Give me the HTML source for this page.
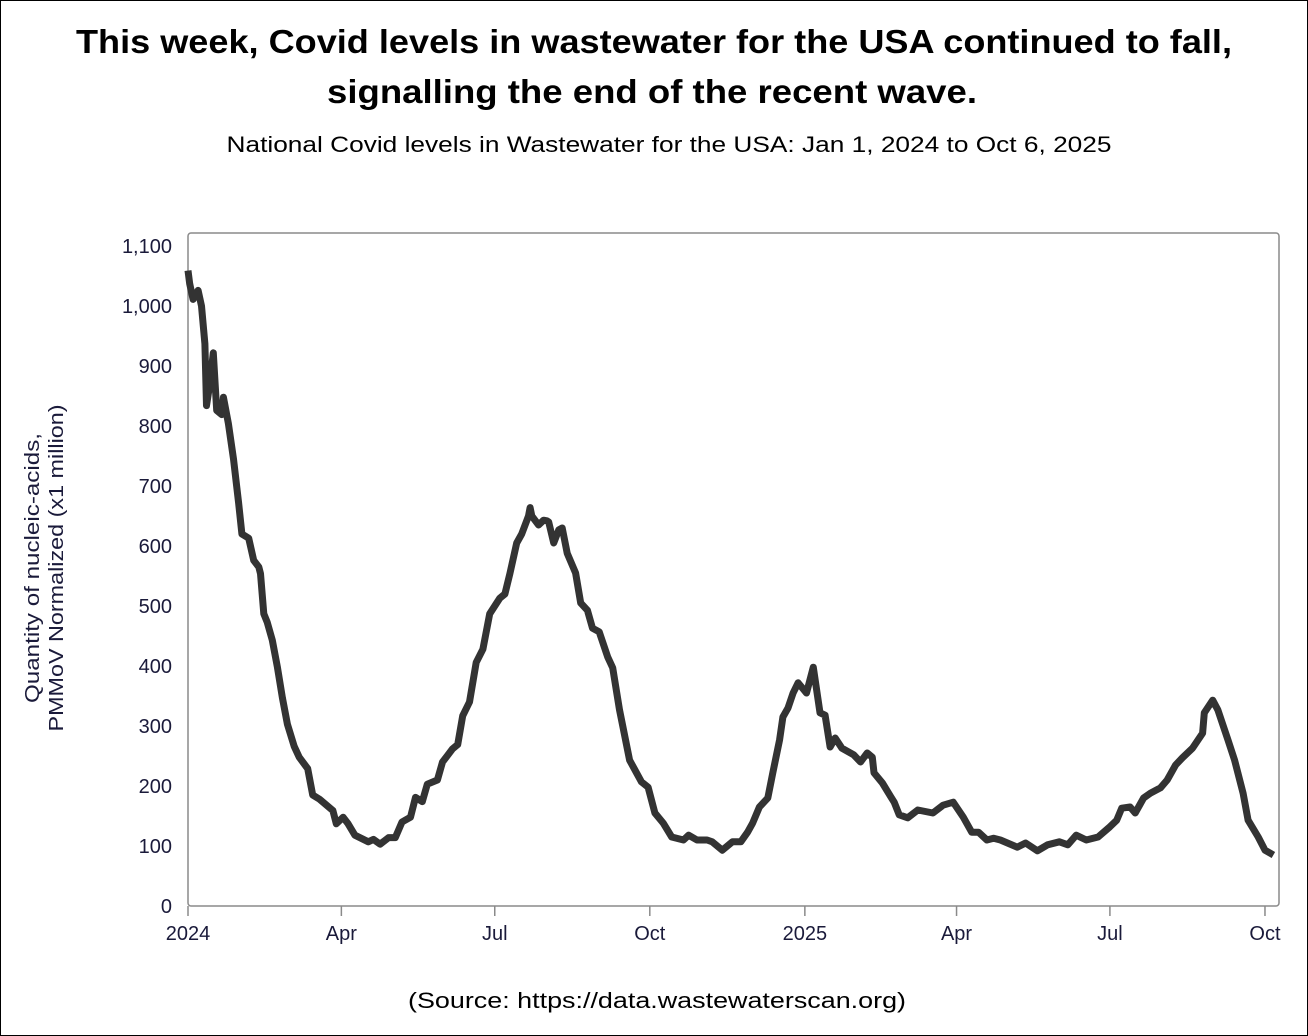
<!DOCTYPE html>
<html><head><meta charset="utf-8"><style>
html,body{margin:0;padding:0;background:#fff}
svg{display:block}
</style></head><body>
<svg id="chart" width="1308" height="1036" viewBox="0 0 1308 1036" xmlns="http://www.w3.org/2000/svg">
<rect x="0.5" y="0.5" width="1307" height="1035" fill="#fff" stroke="#000" stroke-width="1"/>
<text x="654" y="53" text-anchor="middle" font-family="Liberation Sans, sans-serif" font-weight="bold" font-size="33" textLength="1156" lengthAdjust="spacingAndGlyphs">This week, Covid levels in wastewater for the USA continued to fall,</text>
<text x="652" y="103" text-anchor="middle" font-family="Liberation Sans, sans-serif" font-weight="bold" font-size="33" textLength="650" lengthAdjust="spacingAndGlyphs">signalling the end of the recent wave.</text>
<text x="669" y="152" text-anchor="middle" font-family="Liberation Sans, sans-serif" font-size="22" textLength="885" lengthAdjust="spacingAndGlyphs">National Covid levels in Wastewater for the USA: Jan 1, 2024 to Oct 6, 2025</text>
<text x="657" y="1008" text-anchor="middle" font-family="Liberation Sans, sans-serif" font-size="22" textLength="498" lengthAdjust="spacingAndGlyphs">(Source: https://data.wastewaterscan.org)</text>
<g font-family="Liberation Sans, sans-serif" font-size="20" fill="#1a1a3a" text-anchor="middle">
<text x="0" y="0" transform="translate(39,568) rotate(-90)" textLength="270" lengthAdjust="spacingAndGlyphs">Quantity of nucleic-acids,</text>
<text x="0" y="0" transform="translate(63,568) rotate(-90)" textLength="327" lengthAdjust="spacingAndGlyphs">PMMoV Normalized (x1 million)</text>
</g>
<rect x="188" y="233" width="1091" height="673" rx="3" fill="none" stroke="#8a8a8a" stroke-width="1.5"/>
<g id="yticks"></g>
<g id="xticks"></g>
<path id="line" fill="none" stroke="#333" stroke-width="7" stroke-linejoin="round"/>
</svg>
<script>
const days = [0,1,3,6,8,10,11,13,15,17,20,21,24,27,30,32,36,39,42,43,45,47,50,53,56,59,63,66,71,74,78,86,88,92,95,99,107,110,114,119,123,127,132,135,139,142,148,151,154,157,160,163,167,171,175,179,185,188,191,195,198,202,203,204,208,211,213,214,217,220,222,225,230,233,237,240,244,249,252,256,262,269,273,277,282,287,294,297,302,308,311,317,323,328,332,335,339,344,347,351,353,356,359,362,367,371,375,378,381,384,388,395,399,403,406,407,412,417,419,422,427,433,442,448,454,460,465,469,474,478,482,492,497,504,510,517,522,527,533,540,547,551,554,559,562,567,571,577,581,586,590,596,602,603,608,611,617,621,626,629,635,639,644];
const values = [1059,1037,1011,1026,1000,937,834,871,922,826,819,848,804,745,672,620,613,576,565,554,487,473,443,399,347,303,266,248,229,185,178,159,137,148,137,118,107,111,103,114,114,140,148,181,174,203,210,240,251,262,269,317,340,406,428,487,513,520,554,605,620,650,664,650,635,643,642,640,605,627,630,588,555,505,493,463,457,415,397,327,243,207,198,155,138,115,110,118,110,110,107,93,107,107,123,138,165,180,222,277,315,330,355,372,355,398,322,318,265,280,263,252,240,255,248,222,205,182,173,152,147,160,155,168,173,148,123,123,110,113,110,98,105,92,102,107,102,118,110,115,132,143,163,165,155,180,188,197,210,235,247,263,288,322,343,327,277,243,188,143,115,93,85];
const yTicks = [0,100,200,300,400,500,600,700,800,900,1000,1100];
const yTickLabels = ["0","100","200","300","400","500","600","700","800","900","1,000","1,100"];
const xTickDays = [0,91,182,274,366,456,547,639];
const xTickLabels = ["2024","Apr","Jul","Oct","2025","Apr","Jul","Oct"];

const X0=188, PXD=1.6854, Y0=906, PXV=0.6;
const xs = d => X0 + d*PXD;
const ys = v => Y0 - v*PXV;
const NS="http://www.w3.org/2000/svg";
const yg=document.getElementById('yticks');
yTicks.forEach((t,i)=>{
  const tx=document.createElementNS(NS,'text');
  
  
  tx.setAttribute('x',172);tx.setAttribute('y',ys(t)+7);
  tx.setAttribute('text-anchor','end');tx.setAttribute('font-family','Liberation Sans, sans-serif');
  tx.setAttribute('font-size','20');tx.setAttribute('fill','#1a1a3a');
  tx.textContent=yTickLabels[i];yg.appendChild(tx);
});
const xg=document.getElementById('xticks');
xTickDays.forEach((d,i)=>{
  const ln=document.createElementNS(NS,'line');
  
  
  ln.setAttribute('x1',xs(d));ln.setAttribute('x2',xs(d));ln.setAttribute('y1',906);ln.setAttribute('y2',916);
  ln.setAttribute('stroke','#8a8a8a');ln.setAttribute('stroke-width','1.5');xg.appendChild(ln);
  const tx=document.createElementNS(NS,'text');
  
  
  tx.setAttribute('x',xs(d));tx.setAttribute('y',940);
  tx.setAttribute('text-anchor','middle');tx.setAttribute('font-family','Liberation Sans, sans-serif');
  tx.setAttribute('font-size','20');tx.setAttribute('fill','#1a1a3a');
  tx.textContent=xTickLabels[i];xg.appendChild(tx);
});
document.getElementById('line').setAttribute('d', days.map((d,i)=>(i?'L':'M')+xs(d).toFixed(1)+' '+ys(values[i]).toFixed(1)).join(' '));
</script>
</body></html>
